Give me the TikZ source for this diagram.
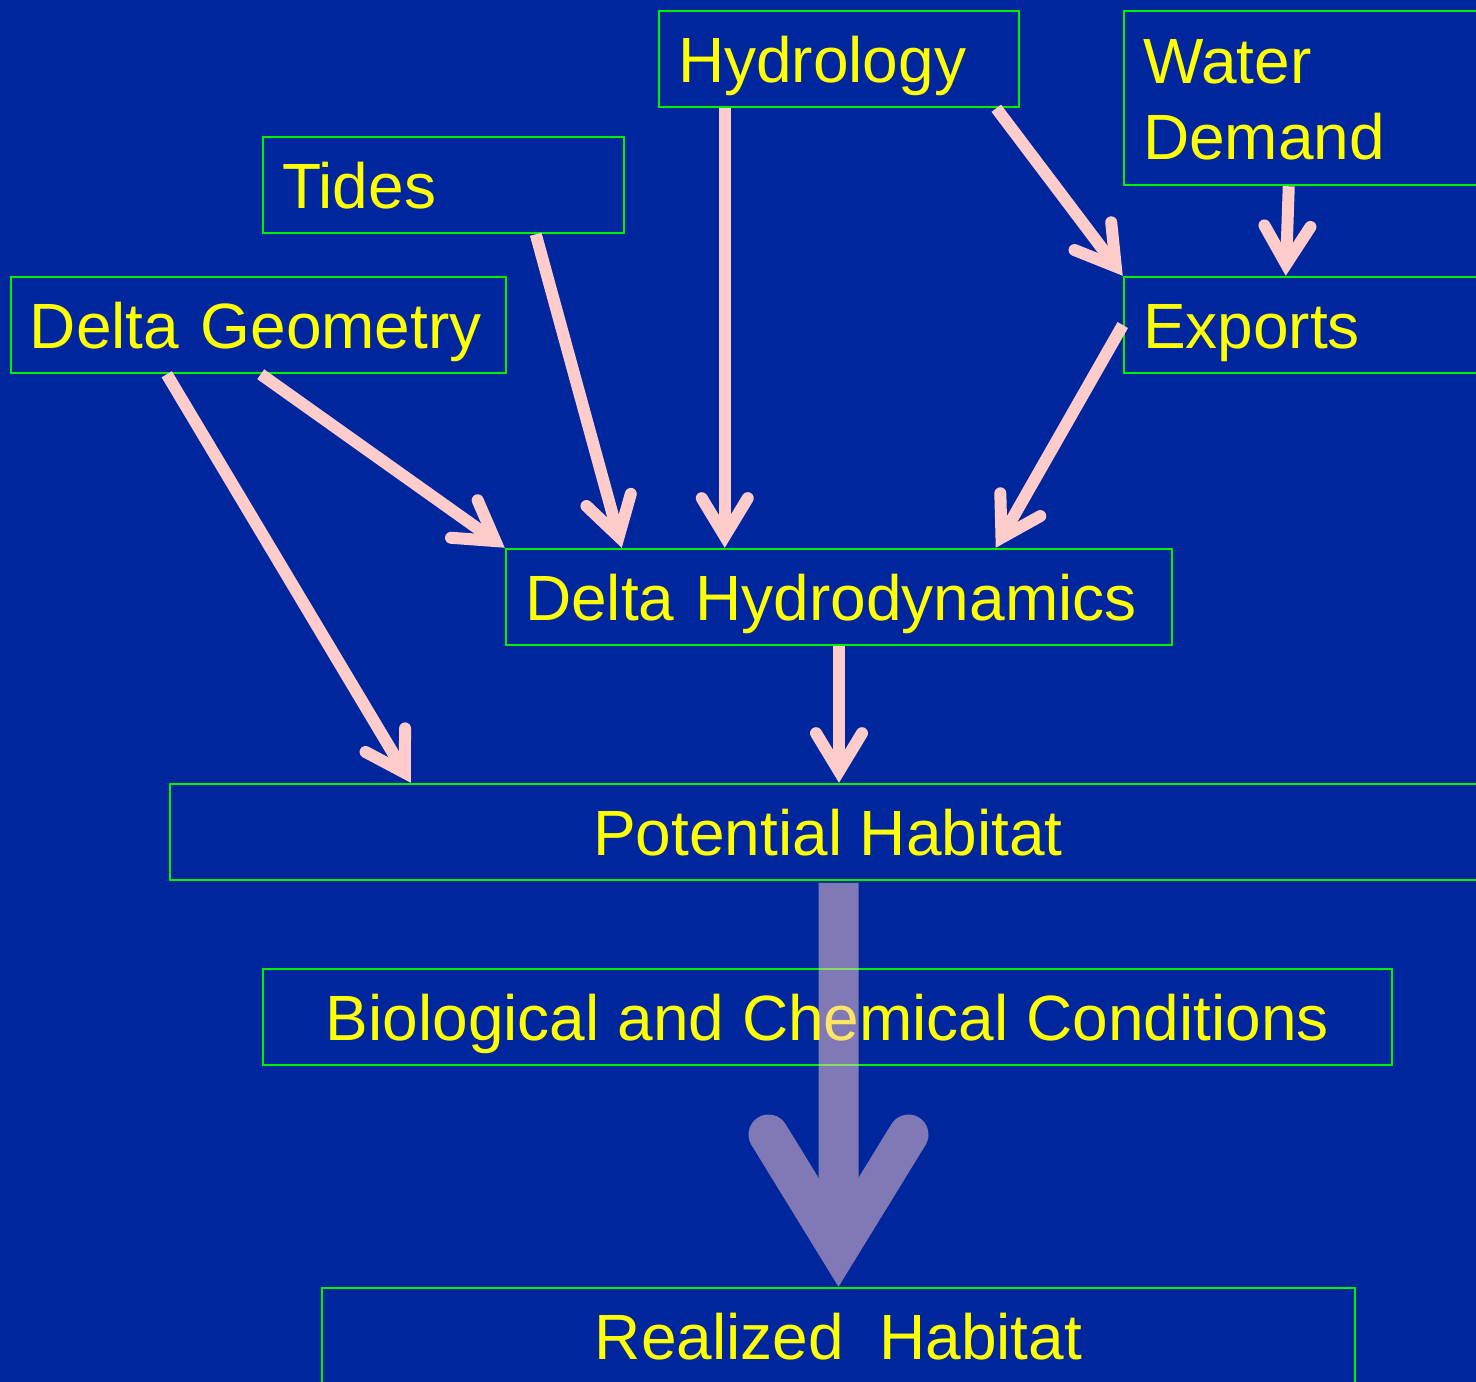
\documentclass[tikz,border=0pt]{standalone}
\usepackage{fontspec}
\setmainfont{Liberation Sans}
\usetikzlibrary{arrows.meta,calc}
\definecolor{bg}{RGB}{0,38,158}
\definecolor{boxgreen}{RGB}{0,240,0}
\definecolor{txtyellow}{RGB}{255,255,0}
\definecolor{arrowpink}{RGB}{255,204,204}
\begin{document}
\begin{tikzpicture}[x=1pt,y=-1pt,
  box/.style={draw=boxgreen, line width=2.5pt, rectangle, inner xsep=19pt, inner ysep=0pt,
    minimum height=96pt, text=txtyellow, font=\fontsize{64}{76}\selectfont,
    text height=46pt, text depth=0pt},
  lbox/.style={box, align=left},
  pinkarrow/.style={draw=arrowpink, line width=12pt, line cap=butt,
    -{Straight Barb[line cap=round, line join=miter, length=38pt, width=46pt]}},
  bigarrow/.style={draw=arrowpink, line width=40pt, line cap=butt,
    -{Straight Barb[line cap=round, line join=miter, length=114pt, width=140pt]}}
]
\useasboundingbox (0,0) rectangle (1476,1382);
\fill[bg] (0,0) rectangle (1476,1382);

% boxes
\node[lbox, minimum width=360pt, text width=322pt] (hyd) at (839,59) {Hydrology};
\node[lbox, minimum width=400pt, text width=362pt, minimum height=174pt, text height=46pt, text depth=76pt] (wd) at (1324,98) {Water\\Demand};
\node[lbox, minimum width=361pt, text width=323pt] (tides) at (443.5,185) {Tides};
\node[lbox, minimum width=495pt, text width=457pt] (dg) at (258.5,325) {Delta Geometry};
\node[lbox, minimum width=400pt, text width=362pt] (exp) at (1324,325) {Exports};
\node[lbox, minimum width=666pt, text width=628pt] (dh) at (839,597) {Delta Hydrodynamics};
\node[box, minimum width=1316pt] (ph) at (828,832) {Potential Habitat};
\node[box, minimum width=1129pt] (bio) at (827.5,1017) {Biological and Chemical Conditions};
\node[box, minimum width=1033pt] (rh) at (838.5,1336) {Realized\ \ Habitat};

% pink connectors
\draw[pinkarrow] ($(hyd.south west)+(67,0)$) -- ($(dh.north west)+(220,0)$);
\draw[pinkarrow] ($(hyd.south east)+(-24,0)$) -- (exp.north west);
\draw[pinkarrow] ($(wd.south west)+(166,0)$) -- ($(exp.north west)+(163,0)$);
\draw[pinkarrow] ($(tides.south west)+(274,0)$) -- ($(dh.north west)+(117,0)$);
\draw[pinkarrow] ($(dg.south west)+(251,0)$) -- (dh.north west);
\draw[pinkarrow] ($(dg.south west)+(157,0)$) -- ($(ph.north west)+(242,0)$);
\draw[pinkarrow] (exp.west) -- ($(dh.north west)+(491,0)$);
\draw[pinkarrow] (dh.south) -- (dh.south |- ph.north);

% big translucent connector
\begin{scope}[transparency group, opacity=0.5]
\draw[bigarrow] ($(rh.north |- ph.south)+(0,1.5)$) -- (rh.north);
\end{scope}
\end{tikzpicture}
\end{document}
